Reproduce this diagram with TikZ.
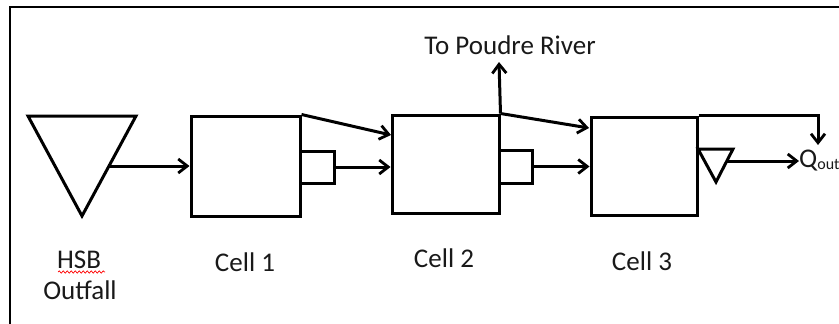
\documentclass[tikz,border=0pt]{standalone}
\usepackage{fontspec}
\setmainfont{Carlito}
\usetikzlibrary{arrows.meta,decorations.pathmorphing}
\begin{document}
\begin{tikzpicture}[x=1pt,y=-1pt,
  ln/.style={line width=3pt, line join=miter},
  arr/.style={ln, -{Straight Barb[length=9pt,width=14pt,line width=2.8pt]}},
  cell/.style={draw, line width=3pt, rectangle, inner sep=0pt},
  lbl/.style={font=\fontsize{27}{30}\selectfont, inner sep=0pt, text=black!90}]
\useasboundingbox (0,0) rectangle (839,324);
\clip (0,0) rectangle (839,324);
% frame
\draw[line width=2.2pt] (10,330) -- (10,7) -- (845,7);
% HSB outfall triangle
\coordinate (h1) at (28,116);
\coordinate (h2) at (136,116);
\coordinate (h3) at (82,216);
\draw[ln] (h1) -- (h2) -- (h3) -- cycle;
\coordinate (hout) at (109,166);
% cells
\node[cell, minimum width=109pt, minimum height=100pt] (c1) at (245.5,166) {};
\node[cell, minimum width=107pt, minimum height=98pt] (c2) at (445.5,164) {};
\node[cell, minimum width=106pt, minimum height=98pt] (c3) at (644,166) {};
% weirs
\node[cell, minimum width=34pt, minimum height=32pt] (w1) at (317,167) {};
\node[cell, minimum width=33pt, minimum height=33pt] (w2) at (515.5,166.5) {};
% small triangle at cell 3
\coordinate (t1) at (698,149);
\coordinate (t2) at (733,149);
\coordinate (t3) at (716,182);
\draw[ln] (t1) -- (t2) -- (t3) -- cycle;
\coordinate (tout) at (727,161);
% connectors
\draw[arr] (hout) -- (c1.west |- hout);
\draw[arr] (c1.north east) -- (391,135);
\draw[arr] (w1.east) -- (c2.west |- w1.east);
\draw[arr] (c2.north east) -- (589,128);
\draw[arr] (w2.east) -- (c3.west |- w2.east);
\coordinate (riv) at (499,62);
\draw[arr] (c2.north east) -- (riv);
\coordinate (qc) at (818,145);
\draw[arr] (c3.north east) -| (qc);
\node[lbl, anchor=west] (qout) at (799,161) {Q{\fontsize{16}{16}\selectfont\raisebox{-1.5pt}{out}}};
\draw[arr] (tout) -- (qout.west);
% labels
\node[lbl] (river) at (510,45) {To Poudre River};
\node[lbl] (hsb) at (79,260) {HSB};
\node[lbl] (outfall) at (80,290) {Outfall};
\node[lbl] (l1) at (245,262) {Cell 1};
\node[lbl] (l2) at (444,258) {Cell 2};
\node[lbl] (l3) at (642,261) {Cell 3};
\draw[red, line width=0.7pt, decorate, decoration={snake, amplitude=1.2pt, segment length=4pt}] (58,272) -- (105,272);
\end{tikzpicture}
\end{document}
